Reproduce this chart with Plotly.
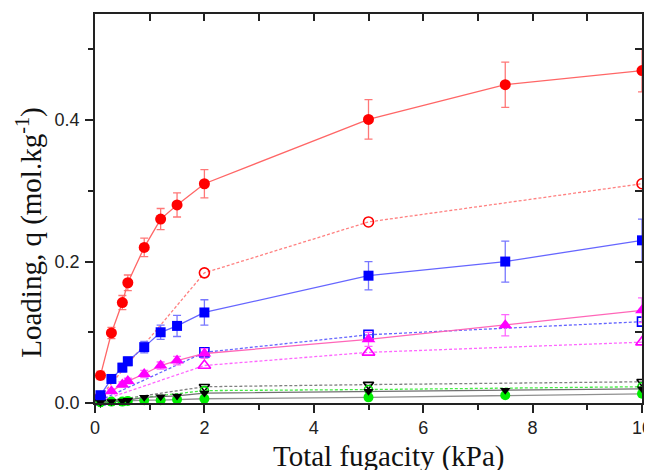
import plotly.graph_objects as go

# ---- data ----
x_full = [0.1, 0.3, 0.5, 0.6, 0.9, 1.2, 1.5, 2, 5, 7.5, 10]
x_mag = [0.3, 0.5, 0.6, 0.9, 1.2, 1.5, 2, 5, 7.5, 10]
x_open = [0.1, 2, 5, 10]

red_filled = [0.039, 0.099, 0.142, 0.170, 0.220, 0.260, 0.280, 0.310, 0.401, 0.450, 0.470]
red_filled_err = [0.006, 0.008, 0.010, 0.011, 0.013, 0.015, 0.017, 0.020, 0.028, 0.032, 0.030]
blue_filled = [0.011, 0.034, 0.050, 0.059, 0.079, 0.100, 0.109, 0.128, 0.180, 0.200, 0.230]
blue_filled_err = [0.004, 0.005, 0.006, 0.006, 0.008, 0.010, 0.015, 0.018, 0.020, 0.029, 0.030]
mag_filled = [0.0165, 0.026, 0.031, 0.041, 0.053, 0.060, 0.070, 0.090, 0.110, 0.131]
mag_filled_err = [0.003, 0.004, 0.004, 0.005, 0.005, 0.006, 0.007, 0.010, 0.015, 0.0175]
black_filled = [0.001, 0.002, 0.003, 0.004, 0.008, 0.009, 0.010, 0.014, 0.0165, 0.018, 0.020]
green_filled = [0.001, 0.002, 0.002, 0.003, 0.004, 0.004, 0.005, 0.006, 0.008, 0.011, 0.013]

red_open = [0.009, 0.184, 0.256, 0.310]
blue_open = [0.004, 0.0716, 0.0965, 0.115]
mag_open = [0.003, 0.053, 0.0716, 0.086]
black_open = [0.001, 0.023, 0.026, 0.030]
green_open = [0.001, 0.0175, 0.019, 0.023]

x_title = "Total fugacity (kPa)"
y_title = "Loading, q (mol.kg<sup>-1</sup>)"

fig = go.Figure()

def open_trace(y, mcolor, lcolor, symbol, size=10):
    fig.add_trace(go.Scatter(
        x=x_open, y=y, mode="lines+markers",
        line=dict(color=lcolor, width=1.3, dash="3px,2px"),
        marker=dict(symbol=symbol, size=size, color=mcolor, line=dict(color=mcolor, width=1.6)),
        showlegend=False, cliponaxis=False))

def filled_trace(x, y, err, mcolor, lcolor, ecolor, symbol, size=11):
    fig.add_trace(go.Scatter(
        x=x, y=y, mode="lines+markers",
        line=dict(color=lcolor, width=1.3),
        marker=dict(symbol=symbol, size=size, color=mcolor, line=dict(width=0)),
        error_y=dict(type="data", array=err, visible=err is not None,
                     color=ecolor, thickness=1.3, width=4),
        showlegend=False, cliponaxis=False))

open_trace(red_open, "#ff0000", "#ff8080", "circle-open")
open_trace(blue_open, "#0000ff", "#6666ff", "square-open", 9)
open_trace(mag_open, "#ff00ff", "#ff66ff", "triangle-up-open", 11)
open_trace(black_open, "#000000", "#808080", "triangle-down-open", 9)
open_trace(green_open, "#00dd00", "#44ee44", "circle-open", 8)

filled_trace(x_full, green_filled, None, "#00ee00", "#909090", None, "circle", 10)
filled_trace(x_full, black_filled, None, "#000000", "#707070", None, "triangle-down", 9)
filled_trace(x_mag, mag_filled, mag_filled_err, "#ff00ff", "#ff66b8", "#ff66ff", "triangle-up", 12)
filled_trace(x_full, blue_filled, blue_filled_err, "#0000ff", "#6666ff", "#7777ff", "square", 10)
filled_trace(x_full, red_filled, red_filled_err, "#ff0000", "#ff6666", "#ff7777", "circle", 11)

# invisible trace binding the mirrored (top/right) frame axes
fig.add_trace(go.Scatter(x=x_full, y=red_filled, xaxis="x2", yaxis="y2", mode="markers",
                         marker=dict(opacity=0), hoverinfo="skip", showlegend=False))

axis_font = dict(family="Liberation Sans, Arial", size=18, color="#222")
title_font = dict(family="Liberation Serif, Times New Roman", size=29, color="#111")

fig.update_layout(
    width=644, height=462,
    margin=dict(l=87, r=10, t=6, b=67, autoexpand=False),
    paper_bgcolor="white", plot_bgcolor="white",
    xaxis=dict(range=[0, 10], dtick=2, tick0=0, ticks="outside", ticklen=8, tickwidth=1.5,
               tickcolor="#222", showline=True, linecolor="#222", linewidth=1.5,
               showgrid=False, zeroline=False, tickfont=axis_font, automargin=False,
               ticklabeloverflow="allow",
               minor=dict(dtick=1, ticks="outside", ticklen=5, tickwidth=1.5, tickcolor="#222", showgrid=False)),
    yaxis=dict(range=[0, 0.55], dtick=0.2, tick0=0, tickformat=".1f", ticks="outside", ticklen=8,
               tickwidth=1.5, tickcolor="#222", showline=True, linecolor="#222", linewidth=1.5,
               showgrid=False, zeroline=False, tickfont=axis_font, automargin=False,
               ticklabelstandoff=2, ticklabeloverflow="allow",
               minor=dict(dtick=0.1, ticks="outside", ticklen=5, tickwidth=1.5, tickcolor="#222", showgrid=False)),
    xaxis2=dict(range=[0, 10], overlaying="x", side="top", dtick=1, tick0=0, ticks="inside",
                ticklen=7, tickwidth=1.5, tickcolor="#222", showline=True, linecolor="#222",
                linewidth=1.5, showgrid=False, zeroline=False, showticklabels=False, automargin=False),
    yaxis2=dict(range=[0, 0.55], overlaying="y", side="right", dtick=0.1, tick0=0, ticks="inside",
                ticklen=7, tickwidth=1.5, tickcolor="#222", showline=True, linecolor="#222",
                linewidth=1.5, showgrid=False, zeroline=False, showticklabels=False, automargin=False),
    annotations=[
        dict(text=x_title, xref="paper", yref="paper", x=0.5375, y=-0.09,
             xanchor="center", yanchor="top", showarrow=False, font=title_font),
        dict(text=y_title, xref="paper", yref="paper", x=-0.119, y=0.44, textangle=-90,
             xanchor="center", yanchor="middle", showarrow=False, font=title_font),
    ],
)

fig.write_html("out.html")
